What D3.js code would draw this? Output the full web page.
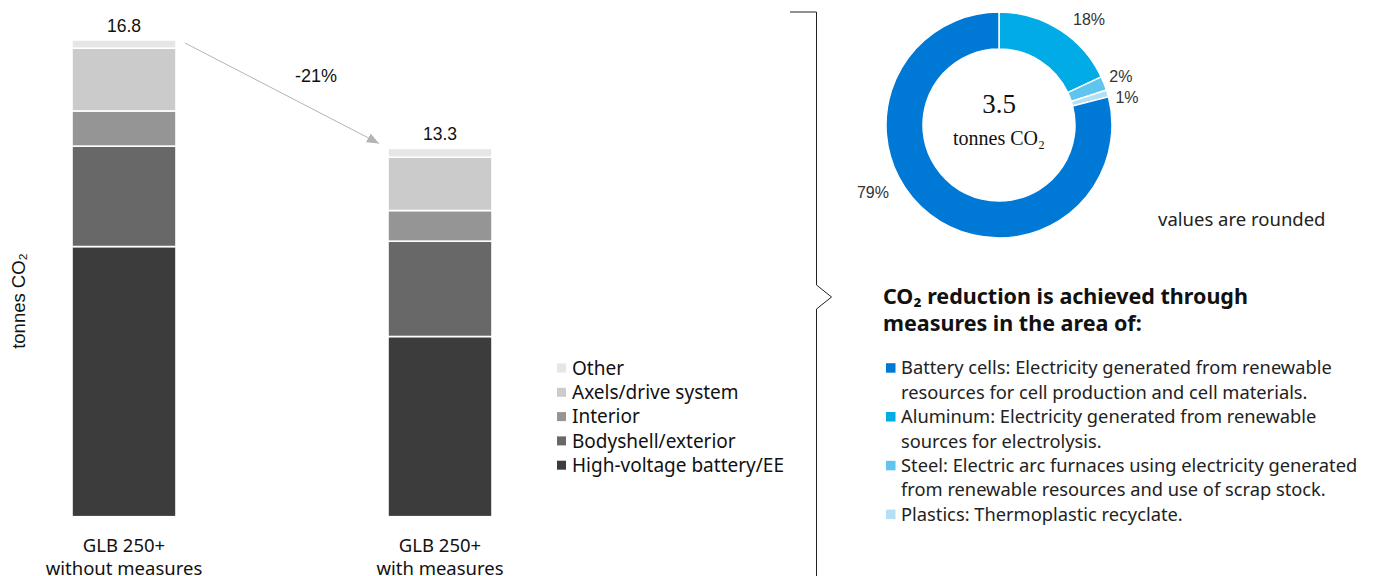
<!DOCTYPE html>
<html>
<head>
<meta charset="utf-8">
<script src="https://cdn.jsdelivr.net/npm/d3@7"></script>
<style>
  html, body { margin: 0; padding: 0; background: #fff; }
  svg { display: block; }
</style>
</head>
<body>
<svg id="chart" width="1381" height="576"></svg>
<script>
// ---------- data ----------
const categories = ["GLB 250+\nwithout measures", "GLB 250+\nwith measures"];
const totalLabels = ["16.8", "13.3"];
const changeLabel = "-21%";
const seriesNames = ["High-voltage battery/EE", "Bodyshell/exterior", "Interior", "Axels/drive system", "Other"];
const hvBattery = [9.52, 6.35];
const bodyshell = [3.54, 3.36];
const interior = [1.24, 1.08];
const axels = [2.21, 1.88];
const other = [0.29, 0.31];
const yAxisLabel = "tonnes CO₂";

const donutLabels = ["Aluminum", "Steel", "Plastics", "Battery cells"];
const donutValues = [18, 2, 1, 79];
const donutCenterValue = "3.5";
const donutCenterUnit = "tonnes CO₂";
const roundedNote = "values are rounded";
const headingLines = ["CO₂ reduction is achieved through", "measures in the area of:"];
const measureItems = [
  ["Battery cells: Electricity generated from renewable", "resources for cell production and cell materials."],
  ["Aluminum: Electricity generated from renewable", "sources for electrolysis."],
  ["Steel: Electric arc furnaces using electricity generated", "from renewable resources and use of scrap stock."],
  ["Plastics: Thermoplastic recyclate."]
];
const measureColorIndex = [3, 0, 1, 2];

// ---------- styles ----------
const greyColors = ["#3c3c3c", "#686868", "#959595", "#cbcbcb", "#e6e6e6"];
const blueColors = ["#00abe6", "#5fc4ee", "#b3e0f5", "#0078d6"];
const sansFont = "'Noto Sans', 'Open Sans', sans-serif";
const arialFont = "'Liberation Sans', Arial, sans-serif";
const serifFont = "'Liberation Serif', 'Times New Roman', serif";

const svg = d3.select("#chart");

// ---------- stacked bars ----------
const seriesValues = [hvBattery, bodyshell, interior, axels, other];
const rows = categories.map((c, i) => {
  const r = { cat: c };
  seriesNames.forEach((s, j) => r[s] = seriesValues[j][i]);
  return r;
});
const stack = d3.stack().keys(seriesNames)(rows);

const x = d3.scalePoint().domain(categories).range([124, 440]);
const barW = 104;
const y = d3.scaleLinear().domain([0, 16.8]).range([516.7, 40]);

const colorScale = d3.scaleOrdinal().domain(seriesNames).range(greyColors);

const gBars = svg.append("g");
stack.forEach(layer => {
  gBars.selectAll(null)
    .data(layer)
    .enter()
    .append("rect")
    .attr("x", d => x(d.data.cat) - barW / 2)
    .attr("y", d => y(d[1]))
    .attr("width", barW)
    .attr("height", d => y(d[0]) - y(d[1]))
    .attr("fill", colorScale(layer.key))
    .attr("stroke", "#fff")
    .attr("stroke-width", 1.6);
});

// totals
const totals = rows.map(r => d3.sum(seriesNames, s => r[s]));
svg.append("g").selectAll("text")
  .data(categories)
  .enter()
  .append("text")
  .attr("x", d => x(d))
  .attr("y", (d, i) => y(totals[i]) - 8)
  .attr("text-anchor", "middle")
  .attr("font-family", arialFont)
  .attr("font-size", 17.5)
  .attr("fill", "#111")
  .text((d, i) => totalLabels[i]);

// category labels
const catG = svg.append("g");
categories.forEach(c => {
  const t = catG.append("text")
    .attr("x", x(c))
    .attr("y", 552)
    .attr("text-anchor", "middle")
    .attr("font-family", sansFont)
    .attr("font-size", 18.5)
    .attr("fill", "#111");
  c.split("\n").forEach((line, k) => {
    t.append("tspan").attr("x", x(c)).attr("dy", k === 0 ? 0 : 22.5).text(line);
  });
});

// y axis label
svg.append("text")
  .attr("transform", "translate(25,301) rotate(-90)")
  .attr("text-anchor", "middle")
  .attr("font-family", arialFont)
  .attr("font-size", 18.5)
  .attr("fill", "#111")
  .text(yAxisLabel);

// arrow
const defs = svg.append("defs");
defs.append("marker")
  .attr("id", "arrowHead")
  .attr("viewBox", "0 0 12 10")
  .attr("refX", 12).attr("refY", 5)
  .attr("markerWidth", 12).attr("markerHeight", 10)
  .attr("markerUnits", "userSpaceOnUse")
  .attr("orient", "auto")
  .append("path")
  .attr("d", "M0,0 L12,5 L0,10 Z")
  .attr("fill", "#b4b4b4");

const ax1 = x(categories[0]) + barW / 2 + 9, ay1 = y(totals[0]) + 3;
const ax2 = x(categories[1]) - barW / 2 - 9, ay2 = y(totals[1]) - 5;
svg.append("line")
  .attr("x1", ax1).attr("y1", ay1)
  .attr("x2", ax2).attr("y2", ay2)
  .attr("stroke", "#b4b4b4")
  .attr("stroke-width", 1)
  .attr("marker-end", "url(#arrowHead)");
svg.append("text")
  .attr("x", (ax1 + ax2) / 2 + 34)
  .attr("y", 82)
  .attr("text-anchor", "middle")
  .attr("font-family", arialFont)
  .attr("font-size", 18)
  .attr("fill", "#111")
  .text(changeLabel);

// legend
const legend = svg.append("g");
const legendOrder = seriesNames.slice().reverse();
legendOrder.forEach((s, i) => {
  const cy = 368 + i * 24.3;
  legend.append("rect")
    .attr("x", 557).attr("y", cy - 4.5)
    .attr("width", 9).attr("height", 9)
    .attr("fill", colorScale(s));
  legend.append("text")
    .attr("x", 572).attr("y", cy)
    .attr("dy", "0.35em")
    .attr("font-family", sansFont)
    .attr("font-size", 19)
    .attr("fill", "#111")
    .text(s);
});

// ---------- bracket ----------
svg.append("path")
  .attr("d", "M790,12 H816.5 V285 L831.5,297 L816.5,309 V576")
  .attr("fill", "none")
  .attr("stroke", "#222")
  .attr("stroke-width", 1);

// ---------- donut ----------
const cx = 999, cy = 125;
const pie = d3.pie().sort(null).value(d => d);
const arcs = pie(donutValues);
const arc = d3.arc().innerRadius(76).outerRadius(113);
const gD = svg.append("g").attr("transform", `translate(${cx},${cy})`);
gD.selectAll("path")
  .data(arcs)
  .enter()
  .append("path")
  .attr("d", arc)
  .attr("fill", (d, i) => blueColors[i])
  .attr("stroke", "#fff")
  .attr("stroke-width", 1.5);

const labelAngleShift = [8, 0, 4, 24];
const labelRadius = [139, 131, 131, 143];
gD.selectAll("text.pct")
  .data(arcs)
  .enter()
  .append("text")
  .attr("class", "pct")
  .attr("x", (d, i) => labelRadius[i] * Math.sin((d.startAngle + d.endAngle) / 2 + labelAngleShift[i] * Math.PI / 180))
  .attr("y", (d, i) => -labelRadius[i] * Math.cos((d.startAngle + d.endAngle) / 2 + labelAngleShift[i] * Math.PI / 180))
  .attr("dy", "0.35em")
  .attr("text-anchor", "middle")
  .attr("font-family", arialFont)
  .attr("font-size", 16)
  .attr("fill", "#333")
  .text(d => d.data + "%");

gD.append("text")
  .attr("x", 0).attr("y", -12)
  .attr("text-anchor", "middle")
  .attr("font-family", serifFont)
  .attr("font-size", 27)
  .attr("fill", "#111")
  .text(donutCenterValue);
gD.append("text")
  .attr("x", 0).attr("y", 20)
  .attr("text-anchor", "middle")
  .attr("font-family", serifFont)
  .attr("font-size", 20)
  .attr("fill", "#111")
  .text(donutCenterUnit);

svg.append("text")
  .attr("x", 1158).attr("y", 220)
  .attr("dy", "0.35em")
  .attr("font-family", sansFont)
  .attr("font-size", 18.5)
  .attr("fill", "#222")
  .text(roundedNote);

// ---------- heading & measures ----------
headingLines.forEach((l, i) => {
  svg.append("text")
    .attr("x", 883).attr("y", 304 + i * 26.5)
    .attr("font-family", sansFont)
    .attr("font-weight", "bold")
    .attr("font-size", 21.5)
    .attr("fill", "#111")
    .text(l);
});

const listG = svg.append("g");
let lineIdx = 0;
measureItems.forEach((item, i) => {
  const top = 368 + lineIdx * 24.4;
  listG.append("rect")
    .attr("x", 886).attr("y", top - 4.8)
    .attr("width", 9.5).attr("height", 9.5)
    .attr("fill", blueColors[measureColorIndex[i]]);
  item.forEach((line, k) => {
    listG.append("text")
      .attr("x", 901).attr("y", 368 + (lineIdx + k) * 24.4)
      .attr("dy", "0.35em")
      .attr("font-family", sansFont)
      .attr("font-size", 18.3)
      .attr("fill", "#222")
      .text(line);
  });
  lineIdx += item.length;
});
</script>
</body>
</html>
